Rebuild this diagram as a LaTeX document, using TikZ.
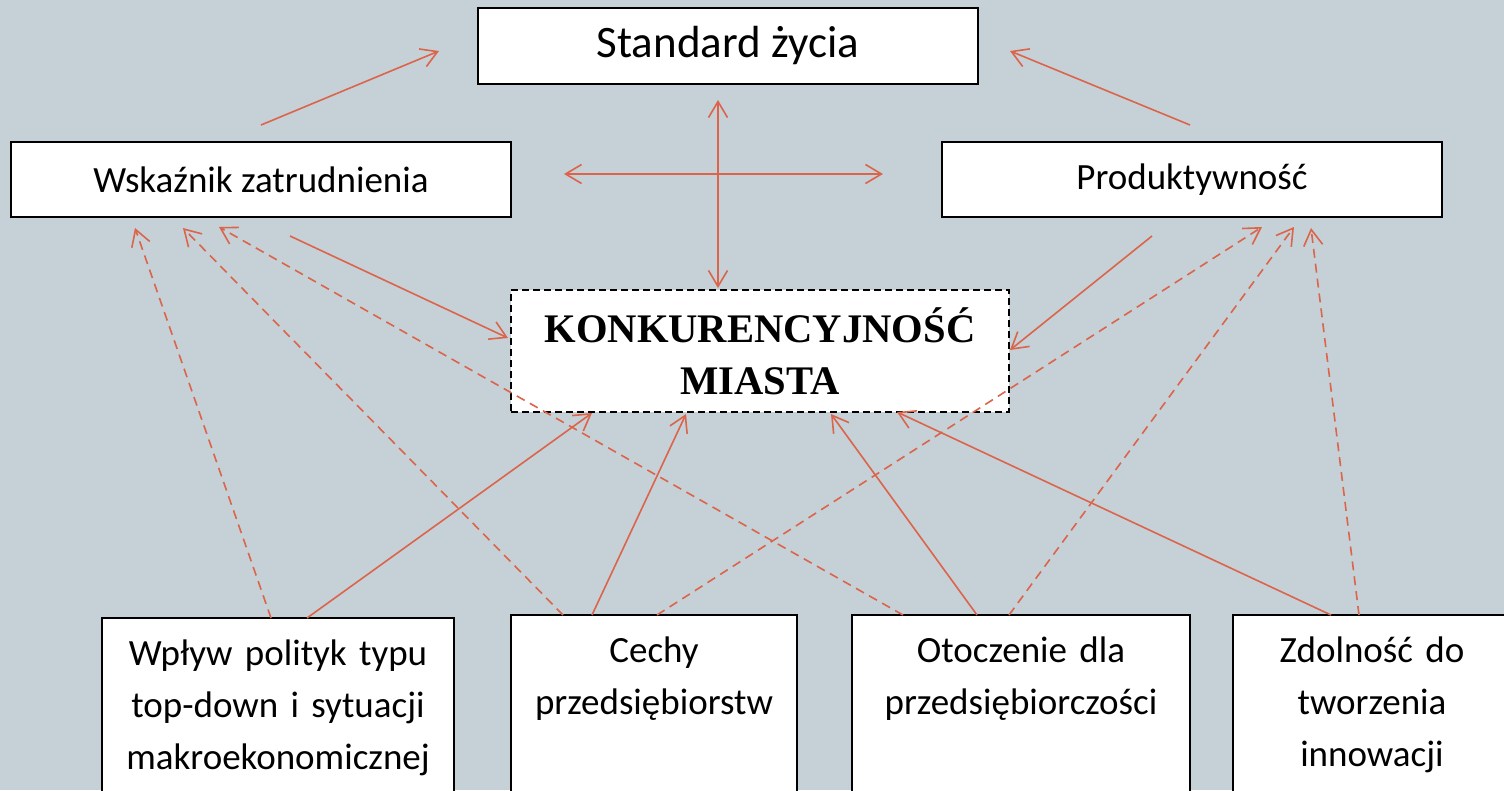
\documentclass[tikz,border=0pt]{standalone}
\usepackage{fontspec}
\setmainfont{Carlito}
\newfontfamily\konkfont{Liberation Serif}
\usepackage{tikz}
\usetikzlibrary{arrows.meta}
\hyphenpenalty=10000

\definecolor{tlo}{RGB}{197,209,215}
\definecolor{strzalka}{RGB}{219,100,75}

\tikzset{
	pole/.style={draw=black, fill=white, line width=1.6pt, inner sep=0pt, outer sep=0pt},
	dol/.style={pole, anchor=north west, align=center, text depth=200pt, inner ysep=11pt},
	grot/.style={color=strzalka, line width=1.6pt, ->},
	przer/.style={grot, dash pattern=on 9pt off 6pt},
}

\begin{document}
\begin{tikzpicture}[x=1pt, y=-1pt, font=\fontsize{37}{52}\selectfont,
		>={Straight Barb[length=16pt,width=19pt]}]
		\clip (0,0) rectangle (1504,790);
		\fill[tlo] (0,0) rectangle (1504,790);

		\node[pole, minimum width=500pt, minimum height=76pt, font=\fontsize{45}{54}\selectfont] (std) at (728,46) {Standard życia};
		\node[pole, minimum width=500pt, minimum height=75pt] (wsk) at (261,179.5) {Wskaźnik zatrudnienia};
		\node[pole, minimum width=500pt, minimum height=75pt] (prod) at (1192,179.5) {Produktywność};
		\node[pole, dash pattern=on 7pt off 4pt, minimum width=498pt, minimum height=122pt, align=center,
			font=\konkfont\bfseries\fontsize{40.6}{52}\selectfont] (konk) at (760,351) {KONKURENCYJNOŚĆ\\MIASTA};

		\node[dol, text width=352pt] (wplyw) at (102,618) {\strut Wpływ polityk typu\\top-down i sytuacji\\makroekonomicznej};
		\node[dol, text width=286pt] (cechy) at (511,615) {\strut Cechy\\przedsiębiorstw};
		\node[dol, text width=338pt] (otocz) at (852,615) {\strut Otoczenie dla\\przedsiębiorczości};
		\node[dol, text width=278pt] (zdol) at (1233,615) {\strut Zdolność do\\tworzenia\\innowacji};

		\path[grot]
		([yshift=17pt]wsk.north) edge ([xshift=-39pt,yshift=-5pt]std.west)
		([xshift=-2pt,yshift=17pt]prod.north) edge ([xshift=32pt,yshift=-5pt]std.east)
		([xshift=29pt,yshift=-19pt]wsk.south) edge ([xshift=-3pt,yshift=13pt]konk.west)
		([xshift=-40pt,yshift=-19pt]prod.south) edge ([xshift=1pt,yshift=1pt]konk.east)
		([xshift=205pt]wplyw.north west) edge ([xshift=81pt,yshift=-1pt]konk.south west)
		([xshift=81pt]cechy.north west) edge ([xshift=-74pt,yshift=-2pt]konk.south)
		([xshift=125pt]otocz.north west) edge ([xshift=71pt,yshift=-2pt]konk.south)
		([xshift=98pt]zdol.north west) edge ([xshift=137pt]konk.south)
		;
		\path[grot, <->]
		([xshift=53pt,yshift=5.5pt]wsk.east) edge ([xshift=-59pt,yshift=5.5pt]prod.west)
		([xshift=-10pt,yshift=-16pt]std.south) edge ([xshift=-42pt,yshift=2pt]konk.north)
		;
		\path[przer]
		([xshift=169pt]wplyw.north west) edge ([xshift=124pt,yshift=-11pt]wsk.south west)
		([xshift=52pt]cechy.north west) edge ([xshift=172pt,yshift=-11pt]wsk.south west)
		([xshift=51pt]otocz.north west) edge ([xshift=208pt,yshift=-10pt]wsk.south west)
		([xshift=146pt]cechy.north west) edge ([xshift=320pt,yshift=-10pt]prod.south west)
		([xshift=157pt]otocz.north west) edge ([xshift=352pt,yshift=-10pt]prod.south west)
		([xshift=126pt]zdol.north west) edge ([xshift=369pt,yshift=-11pt]prod.south west)
		;
	\end{tikzpicture}
\end{document}
